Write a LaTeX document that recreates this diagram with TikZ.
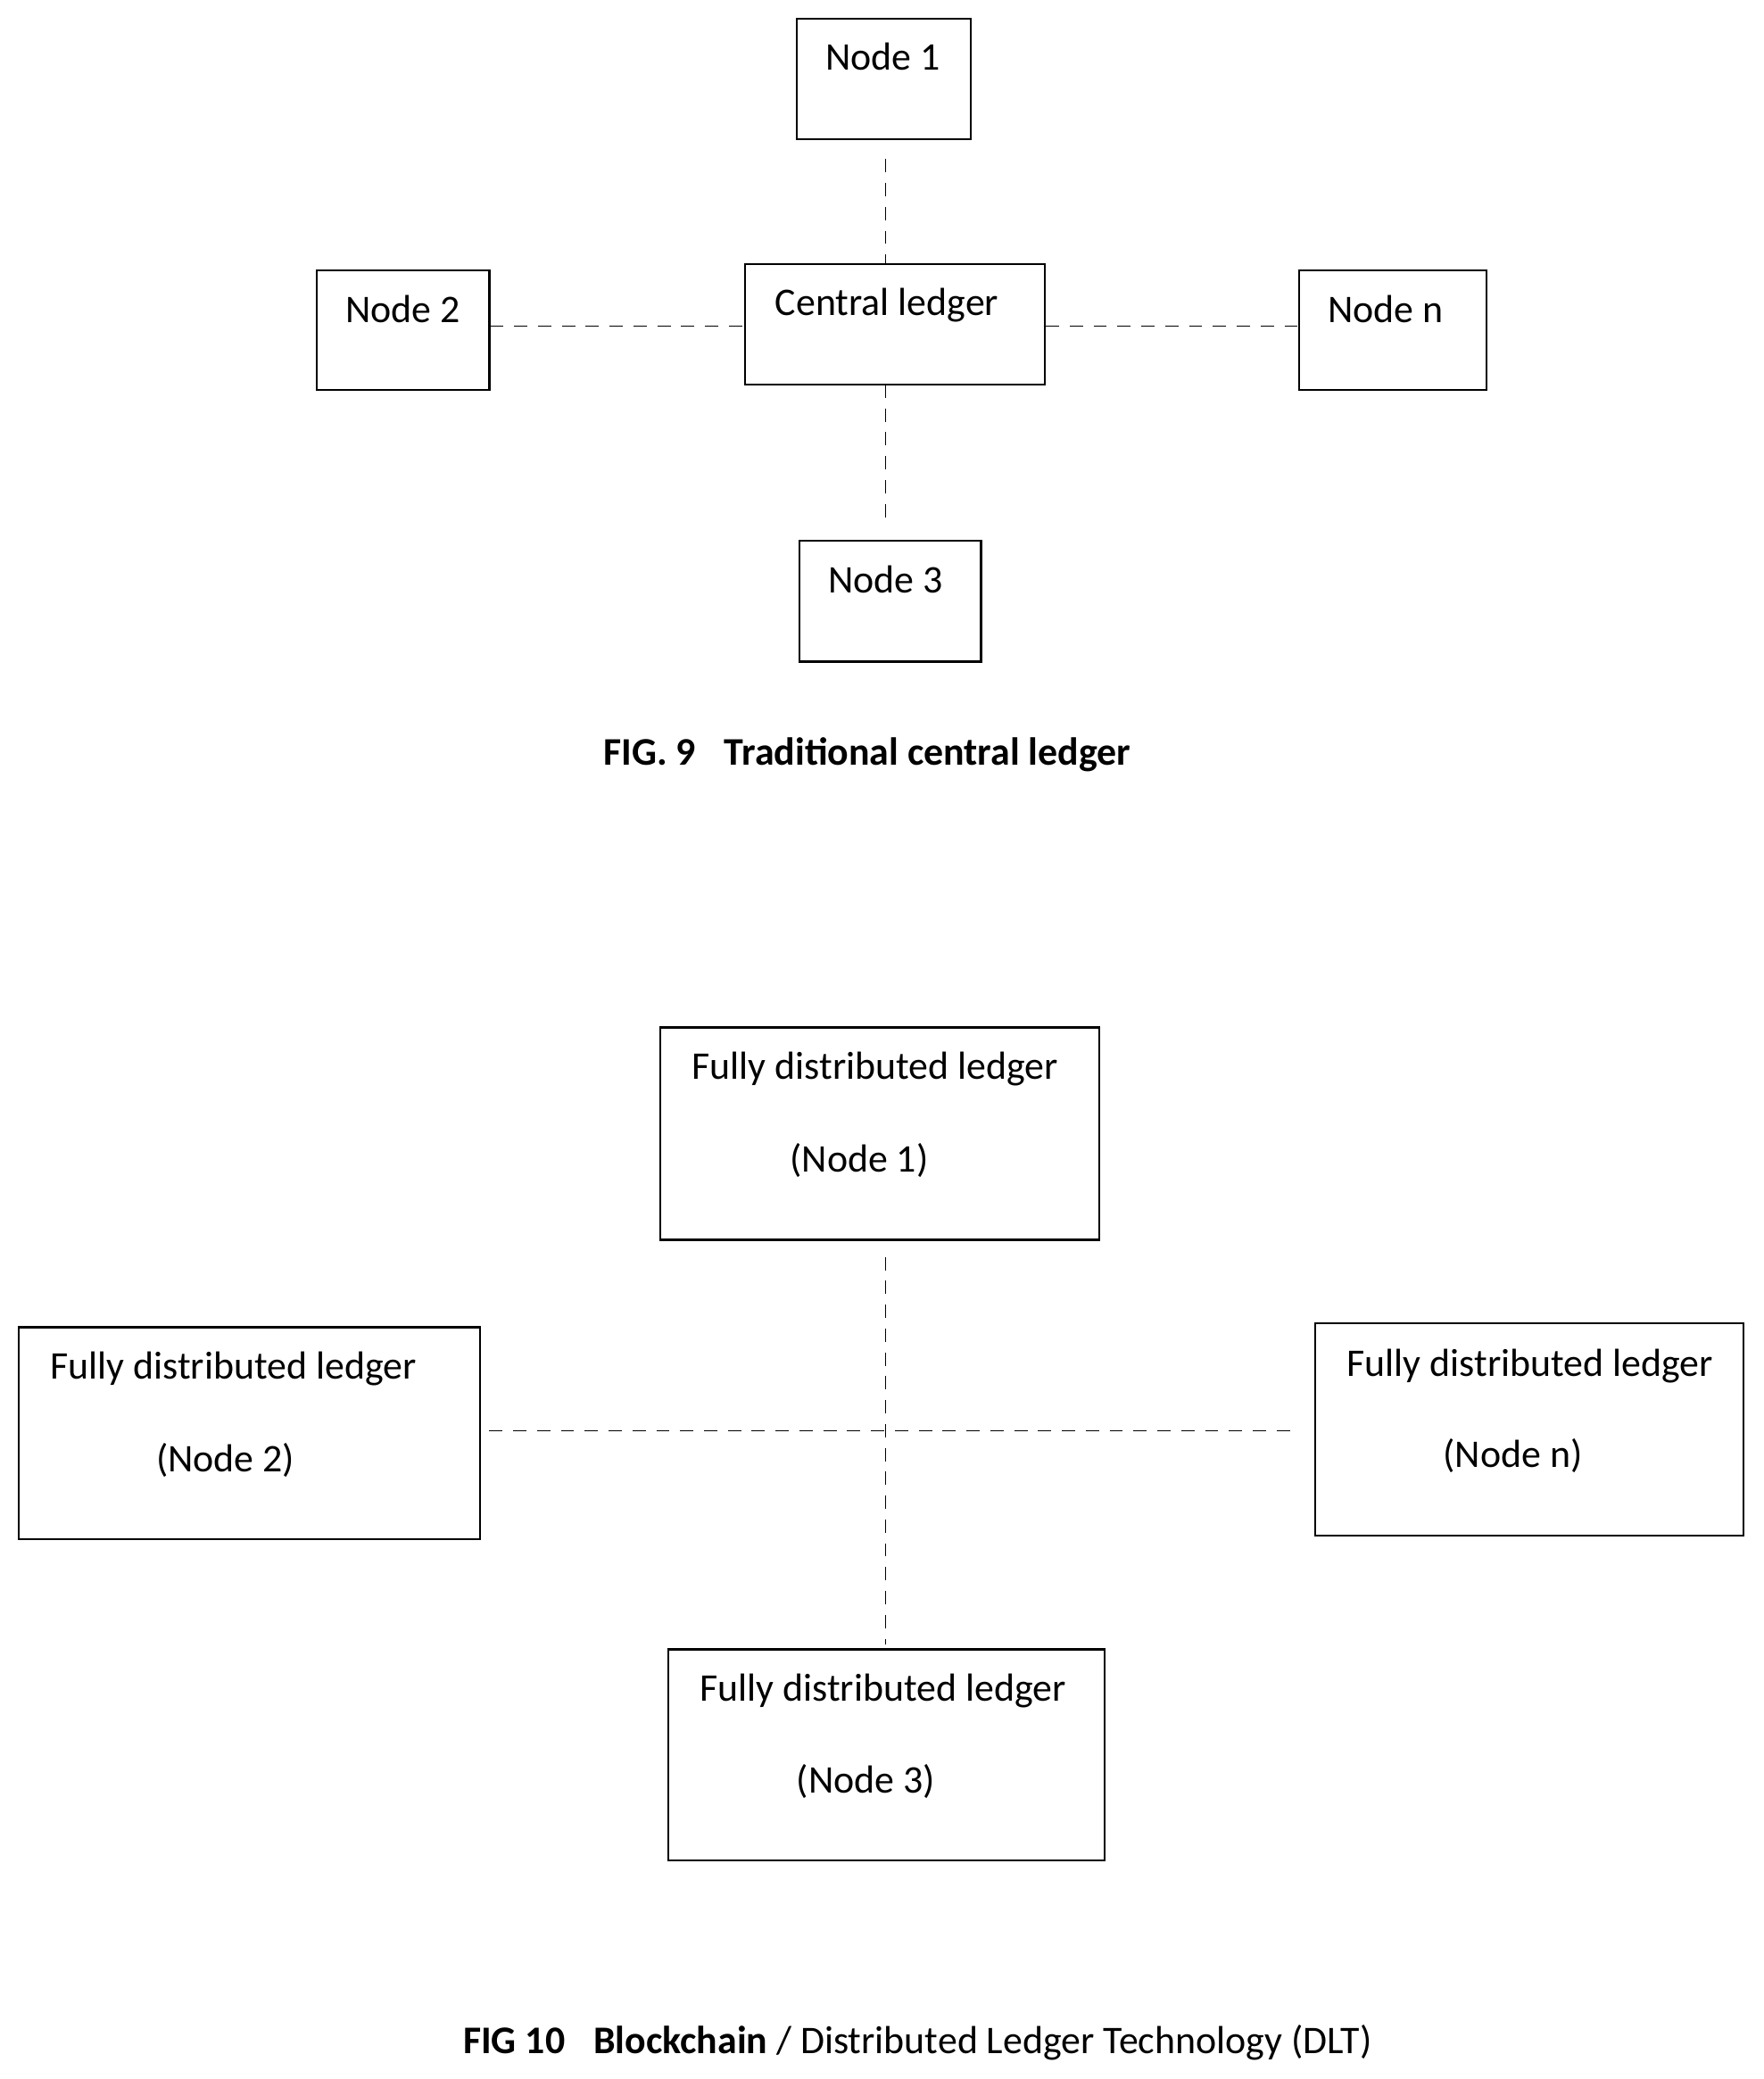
\documentclass[tikz,border=0pt]{standalone}
\usepackage{fontspec}
\setmainfont{Carlito}
\usetikzlibrary{positioning}
\tikzset{
  box/.style={draw, line width=0.9pt, inner sep=0pt},
  txt/.style={font=\fontsize{16.8}{20}\selectfont, inner sep=0pt, anchor=base},
  link/.style={line width=0.6pt, dash pattern=on 0.2cm off 0.16cm},
}
\begin{document}
\begin{tikzpicture}[x=0.02cm, y=-0.02cm]
	\useasboundingbox (0,0) rectangle (1330,1568);
	
	% FIG. 9
	\node [box, minimum width=131*0.02cm, minimum height=91*0.02cm] (n1) at (666.5,59.5) {};
	\node [box, minimum width=226*0.02cm, minimum height=91*0.02cm] (cl) at (675,244.5) {};
	\node [box, minimum width=130*0.02cm, minimum height=90*0.02cm] (n2) at (304,249) {};
	\node [box, minimum width=141*0.02cm, minimum height=90*0.02cm] (nn) at (1050.5,249) {};
	\node [box, minimum width=137*0.02cm, minimum height=91*0.02cm] (n3) at (671.5,453.5) {};
	\node [txt] (t1) at (666,53) {Node 1};
	\node [txt] (tc) at (669,238) {Central ledger};
	\node [txt] (t2) at (304,243) {Node 2};
	\node [txt] (tn) at (1045,243) {Node n};
	\node [txt] (t3) at (668,447) {Node 3};
	
	\coordinate (c9) at (668,246);
	\draw [link] (668,120) -- (668,199);		% oben
	\draw [link] (668,290) -- (668,395);		% unten
	\draw [link] (n2.east |- c9) -- (cl.west |- c9);
	\draw [link] (cl.east |- c9) -- (nn.west |- c9);
	
	\node [txt] (cap9) at (654,577) {\bfseries FIG. 9\enskip\ Traditional central ledger};
	
	% FIG 10
	\node [box, minimum width=331*0.02cm, minimum height=160*0.02cm] (d1) at (663.5,855) {};
	\node [box, minimum width=348*0.02cm, minimum height=160*0.02cm] (d2) at (188,1081) {};
	\node [box, minimum width=323*0.02cm, minimum height=160*0.02cm] (dn) at (1153.5,1078) {};
	\node [box, minimum width=329*0.02cm, minimum height=159*0.02cm] (d3) at (668.5,1323.5) {};
	\foreach \b/\x/\ya/\yb/\xb/\lab in {d1/660/814/884/648/1, d2/176/1040/1110/170/2, dn/1154/1038/1107/1141/n, d3/666/1283/1352/653/3} {
		\node [txt] (\b a) at (\x,\ya) {Fully distributed ledger};
		\node [txt] (\b b) at (\xb,\yb) {(Node \lab)};
	}
	
	\coordinate (hub) at (668,1079);
	\draw [link] (668,948) -- (hub) -- (668,1240);
	\draw [link] (369,1079) -- (hub) -- (980,1079);
	
	\node [txt] (cap10) at (692,1549) {\textbf{FIG 10\enskip\ Blockchain} / Distributed Ledger Technology (DLT)};
\end{tikzpicture}
\end{document}
